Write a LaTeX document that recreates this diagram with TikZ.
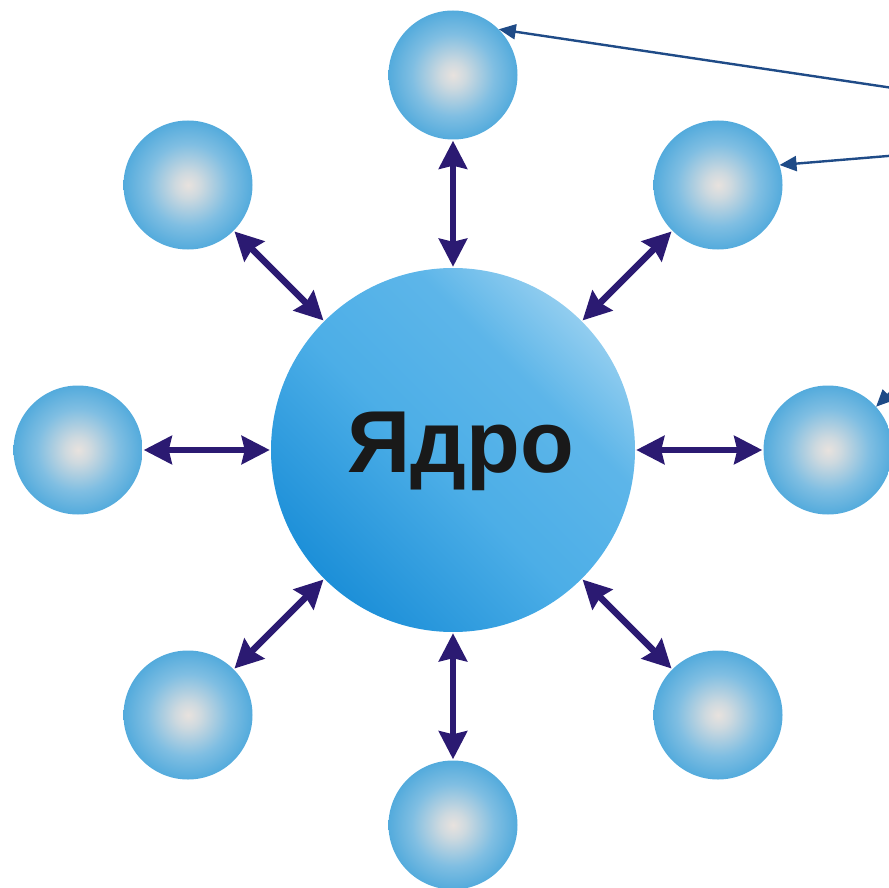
\documentclass[tikz,border=0pt]{standalone}
\usepackage{fontspec}
\setmainfont{Liberation Sans}
\usetikzlibrary{arrows.meta}
\definecolor{ballblue}{HTML}{3BA0D9}
\definecolor{ballmid}{HTML}{7FBEE2}
\definecolor{balllight}{HTML}{E8E2DE}
\definecolor{coredark}{HTML}{168BD6}
\definecolor{coremid}{HTML}{4CAEE7}
\definecolor{corelight}{HTML}{BCE0F4}
\definecolor{thick}{HTML}{2B1A72}
\definecolor{thin}{HTML}{1F4B87}
\pgfdeclareradialshading{ball}{\pgfpoint{0bp}{0bp}}{color(0bp)=(balllight); color(5bp)=(balllight!75!ballmid); color(16bp)=(ballmid); color(30bp)=(ballblue); color(50bp)=(ballblue)}
\pgfdeclarehorizontalshading{coreshade}{100bp}{color(0bp)=(coredark); color(22bp)=(coredark); color(47bp)=(coremid); color(64bp)=(coremid!85!corelight); color(84bp)=(corelight); color(100bp)=(corelight)}
\tikzset{
  sat/.style={circle, minimum size=129pt, inner sep=0pt, shading=ball},
  core/.style={circle, minimum size=364pt, inner sep=0pt, shading=coreshade, shading angle=45},
  bigarrow/.style={draw=thick, line width=6.5pt,
    {Stealth[length=28pt,width=28pt,inset=3pt]}-{Stealth[length=28pt,width=28pt,inset=3pt]},
    shorten <=1pt, shorten >=1pt},
  thinarrow/.style={draw=thin, line width=2.4pt, -{Triangle[length=17pt,width=15pt]}}
}
\begin{document}
\begin{tikzpicture}[x=1pt,y=-1pt]
\useasboundingbox (0,0) rectangle (889,888);
\clip (0,0) rectangle (889,888);
\node[core] (c) at (453,450) {};
\node[font=\bfseries\fontsize{88}{90}\selectfont, text=black!90] (lbl) at (461,451) {Ядро};
\node[sat] (t) at (453,75) {};
\node[sat] (tr) at (718,185) {};
\node[sat] (r) at (828,450) {};
\node[sat] (br) at (718,715) {};
\node[sat] (b) at (453,825) {};
\node[sat] (bl) at (188,715) {};
\node[sat] (l) at (78,450) {};
\node[sat] (tl) at (188,185) {};
\foreach \s in {t,tr,r,br,b,bl,l,tl}{
  \draw[bigarrow] (c) -- (\s);
}
\coordinate (s1) at (960,98);
\coordinate (s2) at (960,150);
\coordinate (s3) at (905,378);
\draw[thinarrow] (s1) -- (t.45);
\draw[thinarrow] (s2) -- (tr.18);
\draw[thinarrow] (s3) -- (r.42);
\end{tikzpicture}
\end{document}
